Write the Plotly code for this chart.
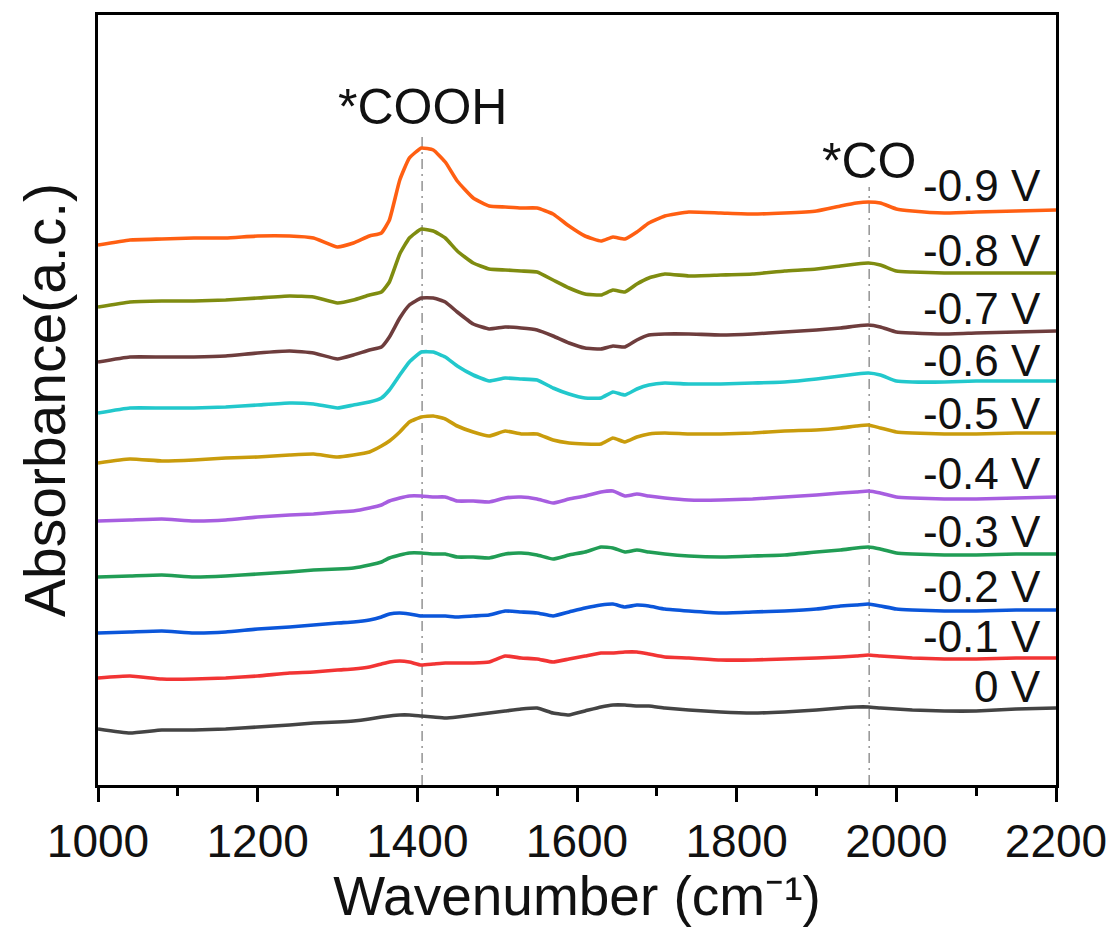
import plotly.graph_objects as go

# Shared wavenumber grid (cm-1)
wavenumber = [1000, 1040, 1080, 1120, 1160, 1200, 1240, 1270, 1300, 1320, 1340, 1355,
              1365, 1378, 1390, 1405, 1420, 1435, 1450, 1470, 1490, 1510, 1530, 1550,
              1570, 1590, 1610, 1630, 1645, 1660, 1675, 1690, 1710, 1740, 1780, 1820,
              1860, 1900, 1930, 1950, 1965, 1980, 2000, 2020, 2060, 2100, 2150, 2200]

# Stacked in-situ IR spectra (a.u., already offset)
abs_m09 = [523, 528, 529, 530, 530, 532, 532, 530, 521, 525, 532, 535, 548, 588, 610, 620,
           618, 606, 587, 570, 562, 561, 560, 560, 554, 542, 532, 527, 531, 529, 536, 545,
           552, 556, 555, 554, 555, 557, 562, 565, 566, 565, 559, 557, 555, 556, 557, 558]
abs_m08 = [461, 466, 467, 467, 468, 470, 472, 471, 465, 468, 473, 476, 486, 514, 530, 539,
           537, 530, 517, 505, 499, 498, 497, 496, 488, 480, 474, 473, 478, 476, 484, 490,
           494, 492, 493, 494, 497, 499, 502, 504, 505, 503, 497, 496, 495, 495, 495, 495]
abs_m07 = [406, 411, 411, 411, 412, 415, 417, 415, 409, 413, 418, 421, 431, 450, 463, 470,
           470, 466, 456, 444, 439, 441, 440, 438, 432, 425, 420, 419, 422, 421, 428, 433,
           434, 434, 433, 434, 436, 438, 440, 442, 443, 441, 436, 435, 434, 435, 436, 437]
abs_m06 = [355, 360, 360, 360, 361, 363, 365, 364, 360, 363, 366, 370, 378, 393, 406, 416,
           416, 411, 402, 393, 387, 390, 389, 388, 380, 374, 370, 370, 376, 373, 379, 383,
           385, 384, 384, 385, 386, 389, 392, 394, 395, 393, 387, 386, 386, 387, 387, 387]
abs_m05 = [305, 309, 307, 308, 310, 311, 313, 314, 311, 313, 316, 322, 327, 336, 346, 351,
           352, 349, 342, 336, 332, 337, 334, 334, 328, 325, 324, 324, 330, 326, 331, 334,
           335, 334, 334, 335, 337, 338, 340, 342, 343, 340, 336, 335, 334, 334, 335, 335]
abs_m04 = [247, 248, 249, 247, 248, 251, 253, 254, 256, 257, 260, 263, 267, 270, 272, 272,
           271, 271, 267, 267, 266, 270, 271, 269, 265, 269, 272, 276, 277, 272, 274, 272,
           270, 268, 268, 269, 271, 273, 275, 276, 277, 275, 271, 270, 269, 269, 270, 271]
abs_m03 = [191, 192, 193, 191, 192, 194, 196, 198, 199, 200, 203, 206, 210, 213, 215, 215,
           214, 214, 211, 211, 210, 214, 215, 213, 209, 213, 216, 221, 220, 216, 218, 216,
           214, 212, 211, 212, 213, 216, 218, 220, 221, 219, 215, 214, 213, 213, 214, 214]
abs_m02 = [135, 136, 137, 135, 136, 139, 141, 143, 145, 146, 148, 151, 154, 155, 154, 152,
           152, 152, 151, 152, 153, 157, 156, 155, 152, 156, 160, 163, 164, 161, 163, 162,
           159, 157, 155, 156, 157, 159, 162, 163, 164, 162, 159, 158, 157, 157, 158, 158]
abs_m01 = [90, 92, 89, 89, 90, 92, 95, 96, 98, 99, 101, 104, 106, 107, 106, 103,
           104, 105, 105, 105, 106, 112, 110, 109, 106, 109, 112, 115, 115, 116, 116, 114,
           111, 110, 108, 108, 109, 110, 111, 112, 113, 112, 111, 110, 109, 109, 110, 110]
abs_0 = [39, 35, 38, 38, 39, 41, 43, 45, 46, 47, 49, 51, 52, 53, 53, 52,
         51, 50, 51, 53, 55, 57, 59, 60, 55, 53, 57, 61, 63, 63, 62, 62,
         60, 58, 56, 55, 56, 58, 60, 61, 61, 60, 59, 58, 57, 57, 59, 60]

potentials = ["-0.9 V", "-0.8 V", "-0.7 V", "-0.6 V", "-0.5 V",
              "-0.4 V", "-0.3 V", "-0.2 V", "-0.1 V", "0 V"]
spectra = [abs_m09, abs_m08, abs_m07, abs_m06, abs_m05,
           abs_m04, abs_m03, abs_m02, abs_m01, abs_0]
colors = ["#ff5f12", "#7f8c10", "#6e3d3d", "#22c8cc", "#c99c0c",
          "#a75ee0", "#219d55", "#0b56da", "#f23434", "#444444"]
# baseline height of each potential label
label_y = [566, 501, 443, 391, 338, 278, 220, 165, 115, 65]
label_x = 2184

# Band assignments: position (cm-1), label baseline and top of guide line
band_names = ["*COOH", "*CO"]
band_pos = [1406, 1966]
band_label_y = [642, 588]
band_line_top = [631, 581]

Y_MIN, Y_MAX = -17, 753
FONT = "Liberation Sans, Arial, sans-serif"

fig = go.Figure()

for pos, top in zip(band_pos, band_line_top):
    fig.add_trace(go.Scatter(
        x=[pos, pos], y=[Y_MIN, top], mode="lines",
        line=dict(color="#9a9a9a", width=1.6, dash="10px,5px,2px,5px"),
        hoverinfo="skip", showlegend=False))

for name, ys, col in zip(potentials, spectra, colors):
    fig.add_trace(go.Scatter(
        x=wavenumber, y=ys, mode="lines", name=name,
        line=dict(color=col, width=3.6, shape="spline", smoothing=0.4),
        showlegend=False))

annotations = []
for name, yb in zip(potentials, label_y):
    annotations.append(dict(
        x=label_x, y=yb, xref="x", yref="y", text=name, showarrow=False,
        xanchor="right", yanchor="bottom", yshift=-10,
        font=dict(family=FONT, size=44, color="#111111")))
for name, pos, yb in zip(band_names, band_pos, band_label_y):
    annotations.append(dict(
        x=pos, y=yb, xref="x", yref="y", text=name, showarrow=False,
        xanchor="center", yanchor="bottom", yshift=-11,
        font=dict(family=FONT, size=50, color="#111111")))

fig.update_layout(
    width=1118, height=927,
    margin=dict(l=98, r=62, t=15, b=142),
    paper_bgcolor="white", plot_bgcolor="white",
    font=dict(family=FONT, color="#111111"),
    annotations=annotations,
)

fig.update_xaxes(
    range=[1000, 2200], showgrid=False, zeroline=False,
    showline=True, linecolor="black", linewidth=3, mirror=True,
    ticks="outside", ticklen=14, tickwidth=2.5, tickcolor="black",
    tickvals=[1000, 1200, 1400, 1600, 1800, 2000, 2200],
    minor=dict(ticks="outside", ticklen=8, tickwidth=2.5, tickcolor="black", dtick=100),
    tickfont=dict(family=FONT, size=46, color="#111111"),
    title=dict(text="Wavenumber (cm\u207b\u00b9)", standoff=10,
               font=dict(family=FONT, size=55, color="#111111")),
)
fig.update_yaxes(
    range=[Y_MIN, Y_MAX], showgrid=False, zeroline=False,
    showline=True, linecolor="black", linewidth=3, mirror=True,
    ticks="", showticklabels=False,
    title=dict(text="Absorbance(a.c.)", standoff=12,
               font=dict(family=FONT, size=57, color="#111111")),
)

fig.write_html("out.html")
